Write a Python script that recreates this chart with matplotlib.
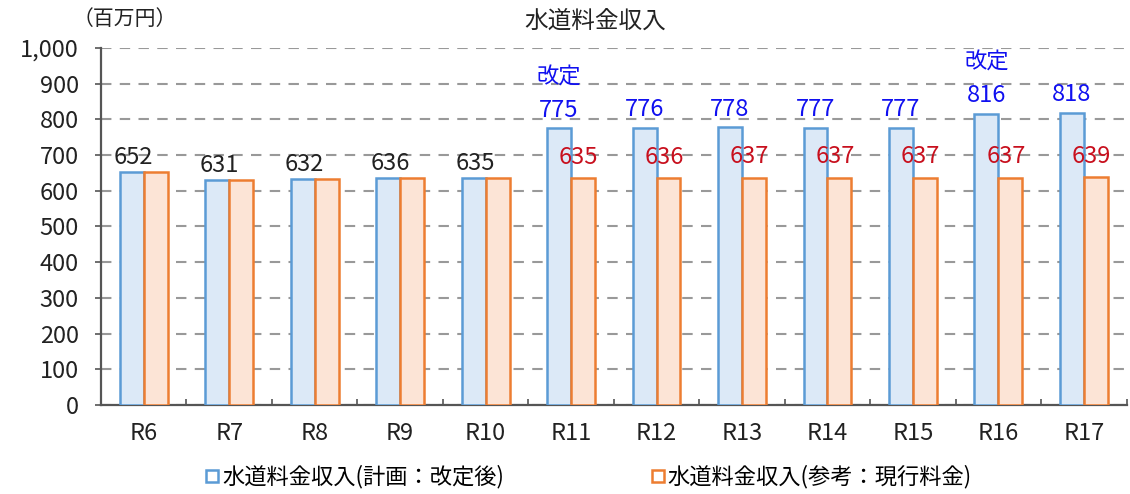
"""Water charge revenue: planned (after revision) vs reference (current rates)."""

import matplotlib

matplotlib.use("Agg")
import matplotlib.pyplot as plt
import numpy as np
from matplotlib.lines import Line2D
from matplotlib.ticker import FuncFormatter, MultipleLocator

plt.rcParams["font.family"] = ["Noto Sans CJK JP", "DejaVu Sans"]

years = ["R6", "R7", "R8", "R9", "R10", "R11", "R12", "R13", "R14", "R15", "R16", "R17"]
planned = [652, 631, 632, 636, 635, 775, 776, 778, 777, 777, 816, 818]
current = [652, 631, 632, 636, 635, 635, 636, 637, 637, 637, 637, 639]
revision_years = ["R11", "R16"]

BLUE_EDGE = "#5b9bd5"
BLUE_FILL = "#dce9f7"
ORANGE_EDGE = "#ed7d31"
ORANGE_FILL = "#fce4d6"
LABEL_BLUE = "#1010f0"
LABEL_RED = "#c8101e"
NUM_SIZE = 17

fig = plt.figure(figsize=(11.3, 4.94), dpi=100)
ax = fig.add_axes([0.0894, 0.180, 0.9076, 0.723])

x = np.arange(len(years))
width = 0.28
ax.bar(x - width / 2, planned, width, color=BLUE_FILL, edgecolor=BLUE_EDGE, linewidth=1.8, zorder=3)
ax.bar(x + width / 2, current, width, color=ORANGE_FILL, edgecolor=ORANGE_EDGE, linewidth=1.8, zorder=3)

for i, year in enumerate(years):
    if planned[i] == current[i]:
        # same value for both series: one black label over the pair
        ax.text(x[i] - 0.12, planned[i] + 8, f"{planned[i]}", ha="center", va="bottom",
                fontsize=NUM_SIZE, color="#222222", zorder=4)
        continue
    ax.text(x[i] - width / 2, planned[i] + 18, f"{planned[i]}", ha="center", va="bottom",
            fontsize=NUM_SIZE, color=LABEL_BLUE, zorder=4)
    ax.text(x[i] + width / 2 - 0.05, current[i] + 26, f"{current[i]}", ha="center", va="bottom",
            fontsize=NUM_SIZE, color=LABEL_RED, zorder=4)
    if year in revision_years:
        ax.text(x[i] - width / 2, planned[i] + 112, "改定", ha="center", va="bottom",
                fontsize=16, color=LABEL_BLUE, zorder=4)

ax.set_xlim(-0.5, len(years) - 0.5)
ax.set_ylim(0, 1000)
ax.yaxis.set_major_locator(MultipleLocator(100))
ax.yaxis.set_major_formatter(FuncFormatter(lambda v, _: f"{int(v):,}"))
ax.set_xticks(x)
ax.set_xticklabels(years)
ax.set_xticks(np.arange(len(years) + 1) - 0.5, minor=True)
ax.tick_params(axis="x", which="major", length=0, pad=12, labelsize=NUM_SIZE, colors="#222222")
ax.tick_params(axis="x", which="minor", direction="in", length=4, width=1.2, color="#555555")
ax.tick_params(axis="y", length=4, width=1.2, color="#555555", labelsize=NUM_SIZE,
               labelcolor="#222222", pad=12)

ax.grid(axis="y", linestyle=(0, (5, 4)), color="#999999", linewidth=1.5, zorder=0)
for side in ("top", "right"):
    ax.spines[side].set_visible(False)
for side in ("left", "bottom"):
    ax.spines[side].set_color("#555555")
    ax.spines[side].set_linewidth(1.6)

fig.text(0.527, 0.958, "水道料金収入", ha="center", va="center", fontsize=17, color="#222222")
fig.text(0.110, 0.962, "（百万円）", ha="center", va="center", fontsize=15, color="#222222")

handles = [
    Line2D([], [], marker="s", linestyle="none", markersize=9, markerfacecolor="white",
           markeredgecolor=BLUE_EDGE, markeredgewidth=1.8),
    Line2D([], [], marker="s", linestyle="none", markersize=9, markerfacecolor="white",
           markeredgecolor=ORANGE_EDGE, markeredgewidth=1.8),
]
fig.legend(handles, ["水道料金収入(計画：改定後)", "水道料金収入(参考：現行料金)"],
           loc="center", bbox_to_anchor=(0.52, 0.035), ncol=2, frameon=False,
           fontsize=16, handletextpad=0.05, columnspacing=6.5, handlelength=0.8)

fig.savefig("out.png", dpi=100, facecolor="white")
